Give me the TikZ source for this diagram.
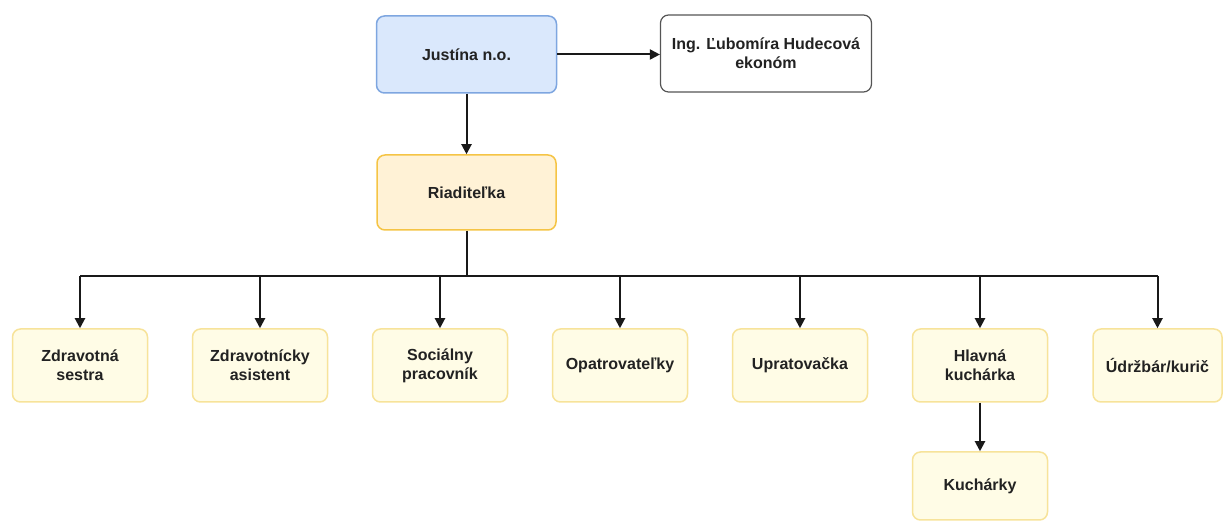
\documentclass[tikz,border=0pt]{standalone}
\usepackage{fontspec}
\setmainfont{Liberation Sans}
\usetikzlibrary{arrows.meta}
\definecolor{blueFill}{HTML}{DAE8FC}
\definecolor{blueLine}{HTML}{7EA6E0}
\definecolor{riadFill}{HTML}{FFF2D6}
\definecolor{riadLine}{HTML}{F5C445}
\definecolor{boxFill}{HTML}{FFFCE6}
\definecolor{boxLine}{HTML}{F7E39A}
\definecolor{ekoLine}{HTML}{555555}
\definecolor{txt}{HTML}{222222}
\tikzset{
  base/.style={rounded corners=8pt, line width=1.5pt, align=center, text=txt,
    font=\fontsize{16}{19}\selectfont\bfseries, inner sep=2pt},
  topbox/.style={base, draw=blueLine, fill=blueFill, minimum width=180pt, minimum height=77pt},
  ekobox/.style={base, draw=ekoLine, fill=white, line width=1.2pt, minimum width=211pt, minimum height=77pt},
  riadbox/.style={base, draw=riadLine, fill=riadFill, minimum width=179pt, minimum height=75pt},
  staffbox/.style={base, draw=boxLine, fill=boxFill, minimum width=135pt, minimum height=73pt},
  conn/.style={line width=2pt, draw=black!90},
  arr/.style={conn, -{Triangle[width=10pt,length=10pt]}}
}
\begin{document}
\begin{tikzpicture}[x=1pt,y=1pt]
\useasboundingbox (0,0) rectangle (1224,524);
\node[topbox] (just) at (466.5,469.5) {Justína n.o.};
\node[ekobox] (eko) at (766,470.5) {Ing. Ľubomíra Hudecová\\ekonóm};
\node[riadbox] (riad) at (466.5,331.5) {Riaditeľka};
\node[staffbox] (s1) at (80,158.5) {Zdravotná\\sestra};
\node[staffbox] (s2) at (260,158.5) {Zdravotnícky\\asistent};
\node[staffbox] (s3) at (440,158.5) {Sociálny\\pracovník};
\node[staffbox] (s4) at (620,158.5) {Opatrovateľky};
\node[staffbox] (s5) at (800,158.5) {Upratovačka};
\node[staffbox] (s6) at (980,158.5) {Hlavná\\kuchárka};
\node[staffbox, minimum width=129pt] (s7) at (1157.5,158.5) {Údržbár/kurič};
\node[staffbox, minimum height=68pt] (kuch) at (980,38) {Kuchárky};
\coordinate (bus) at (466.5,248);
\draw[arr] (just.east) -- (just.east -| eko.west);
\draw[arr] (just.south) -- (riad.north);
\draw[conn] (riad.south) -- (bus);
\draw[conn] (s1.north |- bus) -- (s7.north |- bus);
\foreach \n in {s1,s2,s3,s4,s5,s6,s7}{
  \draw[arr] (\n.north |- bus) -- (\n.north);
}
\draw[arr] (s6.south) -- (kuch.north);
\end{tikzpicture}
\end{document}
